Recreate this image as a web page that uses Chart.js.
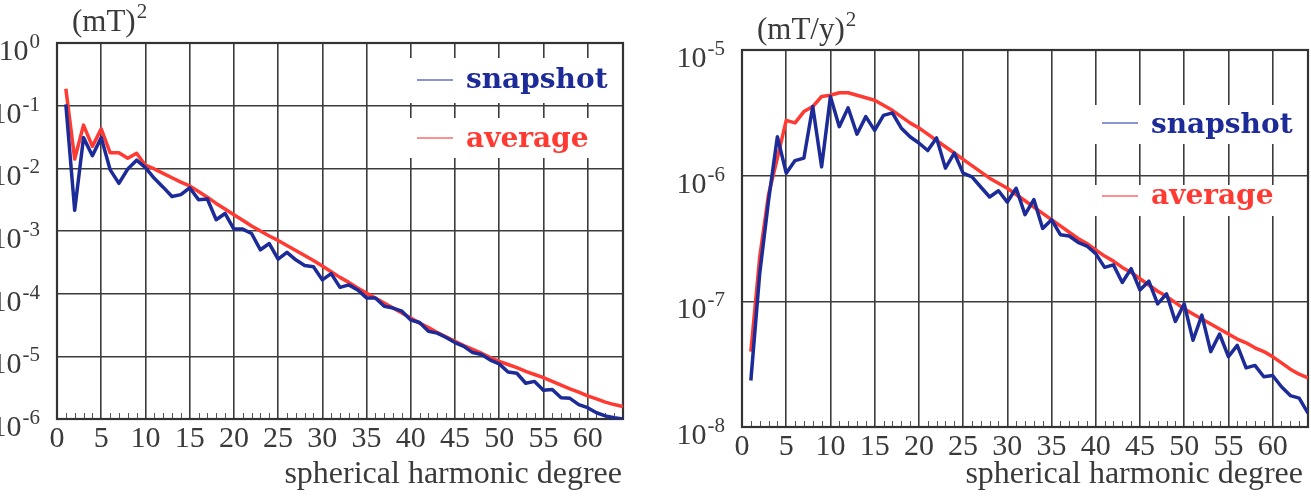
<!DOCTYPE html>
<html>
<head>
<meta charset="utf-8">
<script src="https://cdn.jsdelivr.net/npm/chart.js@4.4.1/dist/chart.umd.min.js"></script>
<style>
  body { margin: 0; background: #fff; }
  .panel { position: absolute; top: 0; }
</style>
</head>
<body>
<div class="panel" style="left:0px"><canvas id="fieldChart" width="655" height="497"></canvas></div>
<div class="panel" style="left:655px"><canvas id="svChart" width="656" height="497"></canvas></div>
<script>
// spherical harmonic degree n
const degrees = [1,2,3,4,5,6,7,8,9,10,11,12,13,14,15,16,17,18,19,20,21,22,23,24,25,26,27,28,29,30,31,32,
  33,34,35,36,37,38,39,40,41,42,43,44,45,46,47,48,49,50,51,52,53,54,55,56,57,58,59,60,61,62,63,64];
const xTicks = [0,5,10,15,20,25,30,35,40,45,50,55,60];

// field spectrum, log10 of (mT)^2
const fieldSnapshotLog = [-0.98,-2.67,-1.51,-1.80,-1.51,-2.02,-2.24,-2.01,-1.87,-1.99,-2.16,-2.30,-2.45,-2.42,-2.31,-2.50,
  -2.49,-2.82,-2.72,-2.97,-2.97,-3.04,-3.30,-3.20,-3.45,-3.34,-3.46,-3.55,-3.57,-3.78,-3.68,-3.90,
  -3.86,-3.94,-4.07,-4.07,-4.20,-4.23,-4.28,-4.42,-4.46,-4.60,-4.63,-4.70,-4.78,-4.84,-4.94,-4.97,
  -5.06,-5.12,-5.25,-5.27,-5.43,-5.40,-5.54,-5.53,-5.66,-5.67,-5.77,-5.82,-5.90,-5.95,-5.98,-6.00];
const fieldAverageLog = [-0.73,-1.85,-1.31,-1.65,-1.37,-1.75,-1.75,-1.84,-1.76,-1.95,-2.01,-2.08,-2.15,-2.22,-2.28,-2.37,
  -2.46,-2.56,-2.65,-2.74,-2.83,-2.92,-3.00,-3.08,-3.15,-3.23,-3.31,-3.39,-3.47,-3.56,-3.65,-3.74,
  -3.82,-3.91,-3.99,-4.07,-4.15,-4.23,-4.31,-4.39,-4.47,-4.54,-4.62,-4.69,-4.76,-4.83,-4.89,-4.95,
  -5.02,-5.08,-5.13,-5.18,-5.24,-5.29,-5.34,-5.40,-5.46,-5.52,-5.57,-5.63,-5.68,-5.73,-5.77,-5.80];
const fieldDecades = [0,-1,-2,-3,-4,-5,-6];

// secular variation spectrum, log10 of (mT/y)^2
const svSnapshotLog = [-7.63,-6.78,-6.20,-5.69,-5.98,-5.88,-5.86,-5.45,-5.93,-5.37,-5.61,-5.46,-5.67,-5.53,-5.64,-5.52,
  -5.50,-5.62,-5.69,-5.74,-5.80,-5.70,-5.94,-5.82,-5.98,-6.01,-6.09,-6.17,-6.12,-6.21,-6.10,-6.31,
  -6.19,-6.42,-6.35,-6.47,-6.48,-6.53,-6.56,-6.62,-6.73,-6.71,-6.85,-6.74,-6.91,-6.84,-7.02,-6.94,
  -7.16,-7.02,-7.31,-7.11,-7.40,-7.26,-7.44,-7.35,-7.53,-7.51,-7.60,-7.59,-7.68,-7.75,-7.77,-7.89];
const svAverageLog = [-7.40,-6.65,-6.15,-5.86,-5.56,-5.58,-5.49,-5.45,-5.37,-5.36,-5.34,-5.34,-5.36,-5.38,-5.40,-5.44,
  -5.48,-5.53,-5.58,-5.62,-5.67,-5.72,-5.77,-5.82,-5.87,-5.92,-5.97,-6.02,-6.06,-6.10,-6.15,-6.20,
  -6.25,-6.30,-6.35,-6.40,-6.45,-6.50,-6.54,-6.59,-6.64,-6.68,-6.73,-6.77,-6.82,-6.87,-6.92,-6.96,
  -7.01,-7.06,-7.10,-7.14,-7.18,-7.22,-7.26,-7.30,-7.33,-7.37,-7.40,-7.44,-7.49,-7.54,-7.58,-7.61];
const svDecades = [-5,-6,-7,-8];

const legendLabels = ['snapshot', 'average'];

const BLUE = '#1c2b98';
const RED = '#ff3a32';
const GRID = '#3c3c3c';
const TEXT = '#3a3a3a';
const SERIF = '"Liberation Serif", "DejaVu Serif", serif';

function puntos(logs){
    return degrees.map((d, i) => ({x: d, y: Math.pow(10, logs[i])}));
}

function supText(ctx, base, sup, x, y, size){
    ctx.font = size + 'px ' + SERIF;
    ctx.textAlign = 'left';
    ctx.fillText(base, x, y);
    const w = ctx.measureText(base).width;
    ctx.font = Math.round(size * 0.68) + 'px ' + SERIF;
    ctx.fillText(sup, x + w + 1, y - size * 0.42);
}

const decor = {
    id: 'decor',
    beforeDatasetsDraw(chart){
        const o = chart.options.plugins.decor;
        const ctx = chart.ctx;
        const a = chart.chartArea;
        const xs = chart.scales.x;
        ctx.save();
        // minor ticks on the degree axis
        ctx.strokeStyle = '#555';
        ctx.lineWidth = 1;
        for (let n = 1; n < 64; n++) {
            if (n % 5 == 0) continue;
            const px = Math.round(xs.getPixelForValue(n)) + 0.5;
            ctx.beginPath();
            ctx.moveTo(px, a.bottom);
            ctx.lineTo(px, a.bottom - 6);
            ctx.stroke();
        }
        // frame
        ctx.strokeStyle = '#333';
        ctx.lineWidth = 2.2;
        ctx.strokeRect(a.left, a.top, a.right - a.left, a.bottom - a.top);
        // legend boxes
        o.legend.forEach((it, i) => {
            ctx.fillStyle = '#fff';
            ctx.fillRect(it.box[0], it.box[1], it.box[2], it.box[3]);
            ctx.strokeStyle = i == 0 ? 'rgba(60,80,180,0.6)' : 'rgba(255,70,70,0.6)';
            ctx.lineWidth = 2;
            ctx.beginPath();
            ctx.moveTo(it.lx, it.ly);
            ctx.lineTo(it.lx + 36, it.ly);
            ctx.stroke();
            ctx.fillStyle = i == 0 ? BLUE : RED;
            ctx.font = 'bold 28px "DejaVu Serif", serif';
            ctx.textAlign = 'left';
            ctx.textBaseline = 'alphabetic';
            ctx.fillText(legendLabels[i], it.lx + 49, it.ty);
        });
        ctx.restore();
    },
    afterDraw(chart){
        const o = chart.options.plugins.decor;
        const ctx = chart.ctx;
        const a = chart.chartArea;
        const ys = chart.scales.y;
        ctx.save();
        ctx.fillStyle = TEXT;
        ctx.textBaseline = 'alphabetic';
        // decade labels 10^e
        o.decades.forEach(e => {
            const py = ys.getPixelForValue(Math.pow(10, e));
            const sup = String(e);
            ctx.font = '21px ' + SERIF;
            const sw = ctx.measureText(sup).width;
            const right = a.left - 17;
            ctx.textAlign = 'left';
            ctx.fillText(sup, right - sw, py + 5);
            ctx.font = '30px ' + SERIF;
            ctx.textAlign = 'right';
            ctx.fillText('10', right - sw - 1, py + 17);
        });
        // unit label
        supText(ctx, o.unit, '2', o.unitX, o.unitY, 31);
        // axis title
        ctx.font = '32px ' + SERIF;
        ctx.textAlign = 'right';
        ctx.fillText('spherical harmonic degree', o.titleRight, 483);
        ctx.restore();
    }
};

function grafico(id, snapLog, avgLog, decs, lay){
    const ctx = document.getElementById(id).getContext('2d');
    return new Chart(ctx, {
        type: 'line',
        data: {
            datasets: [{
                label: legendLabels[0],
                data: puntos(snapLog),
                borderColor: BLUE,
                borderWidth: 3.5,
                pointRadius: 0,
                borderJoinStyle: 'round'
            }, {
                label: legendLabels[1],
                data: puntos(avgLog),
                borderColor: RED,
                borderWidth: 3.5,
                pointRadius: 0,
                borderJoinStyle: 'round'
            }]
        },
        options: {
            responsive: false,
            devicePixelRatio: 1,
            animation: false,
            layout: { padding: { left: 0, top: lay.top, right: lay.right, bottom: 0 } },
            scales: {
                x: {
                    type: 'linear',
                    min: 0,
                    max: 64,
                    afterBuildTicks: s => { s.ticks = xTicks.map(v => ({value: v})); },
                    afterFit: s => { s.height = lay.xh; },
                    ticks: {
                        font: { family: SERIF, size: 30 },
                        color: TEXT,
                        padding: 2,
                        maxRotation: 0,
                        autoSkip: false
                    },
                    grid: { color: GRID, lineWidth: 1.6, drawTicks: false },
                    border: { display: false }
                },
                y: {
                    type: 'logarithmic',
                    min: Math.pow(10, decs[decs.length - 1]),
                    max: Math.pow(10, decs[0]),
                    afterBuildTicks: s => { s.ticks = decs.map(e => ({value: Math.pow(10, e)})); },
                    afterFit: s => { s.width = lay.left; },
                    ticks: { display: false },
                    grid: { color: GRID, lineWidth: 1.6, drawTicks: false },
                    border: { display: false }
                }
            },
            plugins: {
                legend: { display: false },
                tooltip: { enabled: false },
                decor: {
                    decades: decs,
                    unit: lay.unit,
                    unitX: lay.unitX,
                    unitY: lay.unitY,
                    titleRight: lay.titleRight,
                    legend: lay.legend
                }
            }
        },
        plugins: [decor]
    });
}

function asignar(){
    grafico('fieldChart', fieldSnapshotLog, fieldAverageLog, fieldDecades, {
        left: 57, top: 43, right: 32, xh: 78,
        unit: '(mT)', unitX: 72, unitY: 31, titleRight: 622,
        legend: [
            { box: [405, 58, 212, 45], lx: 417, ly: 80, ty: 88 },
            { box: [405, 118, 212, 40], lx: 417, ly: 138, ty: 147 }
        ]
    });
    grafico('svChart', svSnapshotLog, svAverageLog, svDecades, {
        left: 87, top: 50, right: 3, xh: 70,
        unit: '(mT/y)', unitX: 102, unitY: 39, titleRight: 648,
        legend: [
            { box: [437, 105, 212, 39], lx: 447, ly: 123, ty: 133 },
            { box: [437, 185, 212, 31], lx: 447, ly: 196, ty: 204 }
        ]
    });
}
window.addEventListener('load', asignar);
</script>
</body>
</html>
